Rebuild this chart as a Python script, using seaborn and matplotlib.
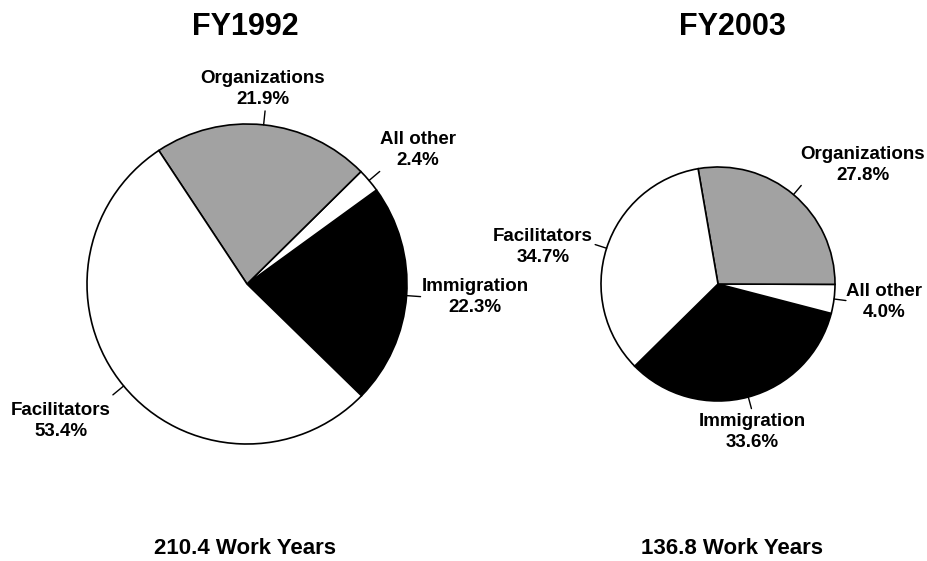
"""Two pie charts: share of work years by category, FY1992 vs FY2003"""

import matplotlib
matplotlib.use("Agg")
import matplotlib.pyplot as plt
import numpy as np
import seaborn as sns

# data
categories = ["Immigration", "All other", "Organizations", "Facilitators"]
fy1992_share = [22.3, 2.4, 21.9, 53.4]
fy2003_share = [33.6, 4.0, 27.8, 34.7]
years = ["FY1992", "FY2003"]
work_years = [210.4, 136.8]

W, H = 928, 561
colors = ["black", "white", "#a2a2a2", "white"]
FONT = ["Liberation Sans", "DejaVu Sans"]

sns.set_theme(style="white")
plt.rcParams["font.family"] = FONT
plt.rcParams["text.color"] = "black"


def py(y):
    # pixel row (top down) -> axis coordinate (bottom up)
    return H - y


fig = plt.figure(figsize=(W / 100, H / 100), dpi=100)
ax = fig.add_axes([0, 0, 1, 1])

# layout per pie: center, radius, start angle, leader length, title x, label spots
pies = [
    dict(shares=fy1992_share, cx=247, cy=284, r=160, start=-44.3, lead=14, tx=245,
         spots={"Immigration": (475, 297), "All other": (418, 150),
                "Organizations": (263, 89), "Facilitators": (61, 421)}),
    dict(shares=fy2003_share, cx=718, cy=284, r=117, start=224.6, lead=12, tx=732,
         spots={"Immigration": (752, 432), "All other": (884, 302),
                "Organizations": (863, 165), "Facilitators": (543, 247)}),
]

for p, year, wy in zip(pies, years, work_years):
    wedges, _ = ax.pie(p["shares"], colors=colors, center=(p["cx"], py(p["cy"])),
                       radius=p["r"], startangle=p["start"], counterclock=True,
                       wedgeprops=dict(edgecolor="black", linewidth=1.2),
                       frame=True)
    for w, cat, val in zip(wedges, categories, p["shares"]):
        mid = np.deg2rad((w.theta1 + w.theta2) / 2)
        x0 = p["cx"] + p["r"] * np.cos(mid)
        y0 = py(p["cy"]) + p["r"] * np.sin(mid)
        x1 = p["cx"] + (p["r"] + p["lead"]) * np.cos(mid)
        y1 = py(p["cy"]) + (p["r"] + p["lead"]) * np.sin(mid)
        ax.plot([x0, x1], [y0, y1], color="black", lw=1.0)
        lx, ly = p["spots"][cat]
        ax.text(lx, py(ly), f"{cat}\n{val:.1f}%", ha="center", va="center",
                fontsize=13.5, fontweight="bold", linespacing=1.35)
    ax.text(p["tx"], py(35), year, ha="center", va="baseline",
            fontsize=22, fontweight="bold")
    ax.text(p["tx"], py(554), f"{wy:.1f} Work Years", ha="center", va="baseline",
            fontsize=16, fontweight="bold")

ax.set_xlim(0, W)
ax.set_ylim(0, H)
ax.axis("off")

fig.savefig("out.png", dpi=100, facecolor="white")
